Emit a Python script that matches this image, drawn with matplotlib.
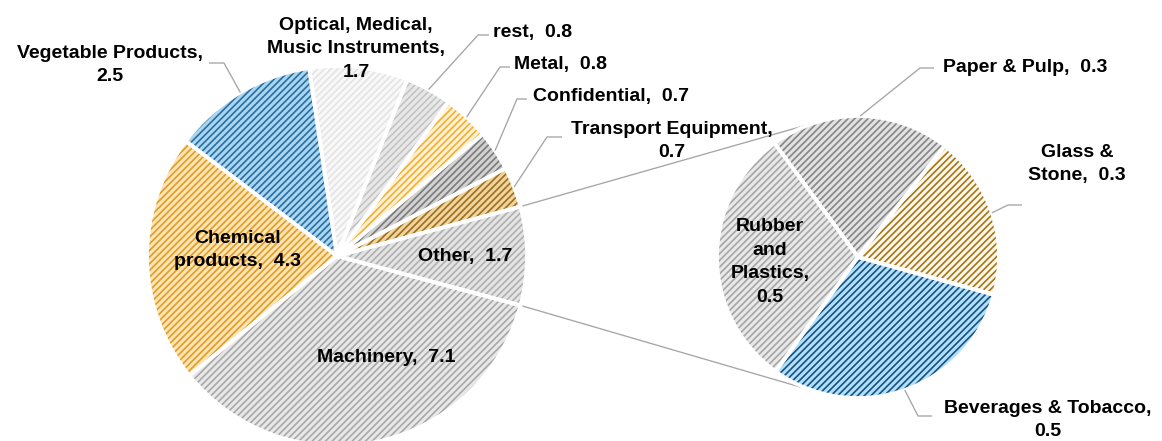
import numpy as np
import matplotlib
matplotlib.use("Agg")
import matplotlib.pyplot as plt

# ---------------- data ----------------
main_names = ["Other", "Transport Equipment", "Confidential", "Metal", "rest",
              "Optical, Medical,\nMusic Instruments", "Vegetable Products",
              "Chemical\nproducts", "Machinery"]
main_values = [1.7, 0.7, 0.7, 0.8, 0.8, 1.7, 2.5, 4.3, 7.1]
main_seps = ["  ", "\n", "  ", "  ", "  ", "\n", "\n", "  ", "  "]

sec_names = ["Glass &\nStone", "Paper & Pulp", "Rubber\nand\nPlastics", "Beverages & Tobacco"]
sec_values = [0.30, 0.33, 0.48, 0.49]
sec_seps = ["  ", "  ", "\n", "\n"]

# ---------------- style ----------------
main_face = ["#e4e4e4", "#efd5a0", "#d2d2d2", "#fff1d6", "#e8e8e8",
             "#f8f8f8", "#a9d6f2", "#fde4b4", "#e8e8e8"]
main_hatchc = ["#b0b0b0", "#a06e1c", "#7a7a7a", "#f2b032", "#c4c4c4",
               "#e4e4e4", "#2a6e9e", "#e09c26", "#a8a8a8"]
sec_face = ["#fdf8ee", "#e2e2e2", "#e8e8e8", "#aee0ff"]
sec_hatchc = ["#a87410", "#858585", "#a6a6a6", "#1e4f78"]

W, H, DPI = 1162, 441, 80
plt.rcParams["hatch.linewidth"] = 1.5
plt.rcParams["font.family"] = ["Liberation Sans", "DejaVu Sans"]

fig = plt.figure(figsize=(W / DPI, H / DPI), dpi=DPI)
ax = fig.add_axes([0, 0, 1, 1])

def Y(y):
    return H - y

mc, mR = (337, Y(256)), 190
sc, sR = (858, Y(257)), 141
main_start = -main_values[0] / sum(main_values) * 360 / 2
sec_start = -15.5

def draw_pie(values, face, hatchc, center, radius, start):
    wedges, _ = ax.pie(values, colors=face, startangle=start, counterclock=True,
                       center=center, radius=radius,
                       wedgeprops=dict(linewidth=0))
    for w, hc in zip(wedges, hatchc):
        w.set_hatch("////")
        w.set_edgecolor(hc)
        w.set_linewidth(0)
    ax.pie(values, colors=["none"] * len(values), startangle=start, counterclock=True,
           center=center, radius=radius,
           wedgeprops=dict(linewidth=3.4, edgecolor="white", fill=False))
    return wedges

mw = draw_pie(main_values, main_face, main_hatchc, mc, mR, main_start)
sw = draw_pie(sec_values, sec_face, sec_hatchc, sc, sR, sec_start)

def rim(w, center, radius):
    a = np.deg2rad((w.theta1 + w.theta2) / 2)
    return center[0] + radius * np.cos(a), center[1] + radius * np.sin(a)

GRAY = "#a6a6a6"
FS = 17.5

# label positions (pixel centers) and leaders (x_label_end, x_elbow, y)
main_pos = [(465, 257), (672, 141), (611, 97), (561, 65), (533, 33),
            (356, 49), (110, 65), (238, 250), (386, 357)]
main_lead = [None, (562, 547, 137), (527, 517, 99), (510, 500, 67), (489, 478, 35),
             None, (209, 224, 63), None, None]
sec_pos = [(1077, 164), (1025, 67), (770, 262), (1048, 420)]
sec_lead = [(1022, 1008, 205), (934, 920, 68), None, (932, 918, 416)]

for names, vals, seps, pos, leads, wedges, c, R in [
        (main_names, main_values, main_seps, main_pos, main_lead, mw, mc, mR),
        (sec_names, sec_values, sec_seps, sec_pos, sec_lead, sw, sc, sR)]:
    for n, v, s, p, ld, w in zip(names, vals, seps, pos, leads, wedges):
        ax.text(p[0], Y(p[1]), f"{n},{s}{v:.1f}", ha="center", va="center",
                fontsize=FS, fontweight="bold", color="black", linespacing=1.5)
        if ld is not None:
            ex, ey = rim(w, c, R)
            ax.plot([ld[0], ld[1], ex], [Y(ld[2]), Y(ld[2]), ey], color=GRAY,
                    lw=1.2, solid_capstyle="butt")

# connector lines: Other slice edges -> tangents of secondary pie
ow = mw[0]
for ang, sign in [(ow.theta2, 1), (ow.theta1, -1)]:
    a = np.deg2rad(ang)
    px, py = mc[0] + mR * np.cos(a), mc[1] + mR * np.sin(a)
    dx, dy = sc[0] - px, sc[1] - py
    d = np.hypot(dx, dy)
    base = np.arctan2(dy, dx)
    t = base + sign * np.arcsin(sR / d)
    na = t + sign * np.pi / 2
    tx, ty = sc[0] + sR * np.cos(na), sc[1] + sR * np.sin(na)
    ax.plot([px, tx], [py, ty], color=GRAY, lw=1.2, zorder=0.5)

ax.set_xlim(0, W)
ax.set_ylim(0, H)
ax.set_aspect("equal", adjustable="box")
ax.axis("off")
fig.savefig("out.png", dpi=DPI, facecolor="white")
